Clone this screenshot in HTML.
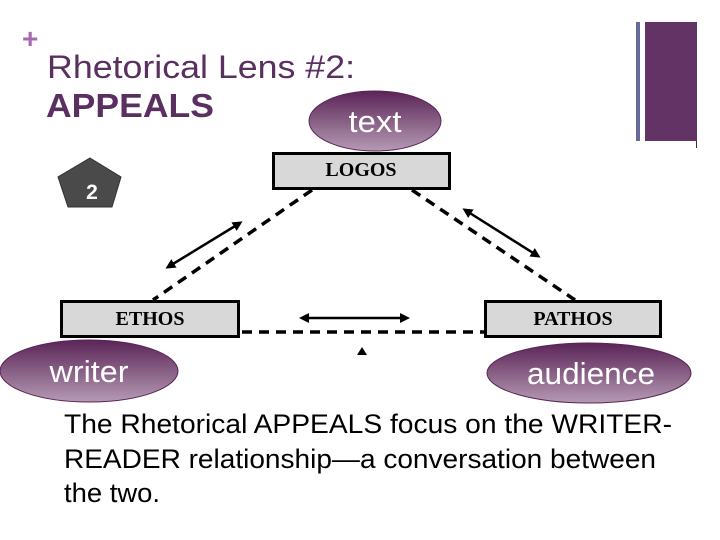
<!DOCTYPE html>
<html><head><meta charset="utf-8"><style>
html,body{margin:0;padding:0;background:#fff;width:720px;height:540px;overflow:hidden}
</style></head><body>
<svg width="720" height="540" viewBox="0 0 720 540" xmlns="http://www.w3.org/2000/svg" font-family="Liberation Sans, Arial, sans-serif">
<defs>
<linearGradient id="g" x1="0" y1="0" x2="0" y2="1">
<stop offset="0" stop-color="#5a2457"/><stop offset="1" stop-color="#b59ab3"/>
</linearGradient>
<marker id="a" markerWidth="10" markerHeight="10" refX="7" refY="5" orient="auto-start-reverse" markerUnits="userSpaceOnUse">
<path d="M0,0 L10,5 L0,10 z" fill="#000"/></marker>
</defs>
<text x="22" y="48" font-size="28" fill="#a868b0" font-weight="bold">+</text>
<text x="47" y="78" font-size="32" fill="#5a3060" textLength="308" lengthAdjust="spacingAndGlyphs">Rhetorical Lens #2:</text>
<text x="46" y="117" font-size="33" font-weight="bold" fill="#5a3060" textLength="168" lengthAdjust="spacingAndGlyphs">APPEALS</text>
<rect x="636" y="22" width="4" height="119" fill="#666a99"/>
<rect x="645" y="22" width="52" height="119" fill="#643366"/>
<rect x="696" y="141" width="1" height="7" fill="#333"/>
<polygon points="90,158 121,177 112,207 68,207 58,177" fill="#4a4a4a" stroke="#333"/>
<text x="92" y="199" font-size="21" font-weight="bold" fill="#fff" text-anchor="middle">2</text>
<g stroke="#000" stroke-width="3.5" stroke-dasharray="10,7" fill="none">
<line x1="312" y1="190" x2="153" y2="300"/>
<line x1="412" y1="190" x2="575" y2="300"/>
<line x1="242" y1="332" x2="484" y2="332"/>
</g>
<g stroke="#000" stroke-width="2.5" fill="none">
<line x1="240" y1="223" x2="168" y2="267" marker-start="url(#a)" marker-end="url(#a)"/>
<line x1="465" y1="210" x2="538" y2="256" marker-start="url(#a)" marker-end="url(#a)"/>
<line x1="302" y1="318" x2="407" y2="318" marker-start="url(#a)" marker-end="url(#a)"/>
</g>
<path d="M357,355 L362,347 L367,355 z" fill="#000"/>
<rect x="273.5" y="153.5" width="176" height="35" fill="#d8d8d8" stroke="#000" stroke-width="3"/>
<text x="361" y="176" font-family="Liberation Serif, serif" font-weight="bold" font-size="20" text-anchor="middle">LOGOS</text>
<rect x="61.5" y="301.5" width="177" height="35" fill="#d8d8d8" stroke="#000" stroke-width="3"/>
<text x="150" y="325" font-family="Liberation Serif, serif" font-weight="bold" font-size="20" text-anchor="middle">ETHOS</text>
<rect x="485.5" y="301.5" width="175" height="35" fill="#d8d8d8" stroke="#000" stroke-width="3"/>
<text x="573" y="325" font-family="Liberation Serif, serif" font-weight="bold" font-size="20" text-anchor="middle">PATHOS</text>
<ellipse cx="375" cy="121" rx="66" ry="30" fill="url(#g)" stroke="#5a2457"/>
<text x="375" y="132" font-size="31" fill="#fff" text-anchor="middle" textLength="53" lengthAdjust="spacingAndGlyphs">text</text>
<ellipse cx="89" cy="371" rx="89" ry="31" fill="url(#g)" stroke="#5a2457"/>
<text x="89" y="382" font-size="31" fill="#fff" text-anchor="middle" textLength="79" lengthAdjust="spacingAndGlyphs">writer</text>
<ellipse cx="589" cy="373" rx="102" ry="30" fill="url(#g)" stroke="#5a2457"/>
<text x="591" y="384" font-size="31" fill="#fff" text-anchor="middle" textLength="128" lengthAdjust="spacingAndGlyphs">audience</text>
<g font-size="27" fill="#000">
<text x="64" y="433" textLength="608" lengthAdjust="spacingAndGlyphs">The Rhetorical APPEALS focus on the WRITER-</text>
<text x="64" y="468" textLength="592" lengthAdjust="spacingAndGlyphs">READER relationship—a conversation between</text>
<text x="64" y="502" textLength="96" lengthAdjust="spacingAndGlyphs">the two.</text>
</g>
</svg>
</body></html>
